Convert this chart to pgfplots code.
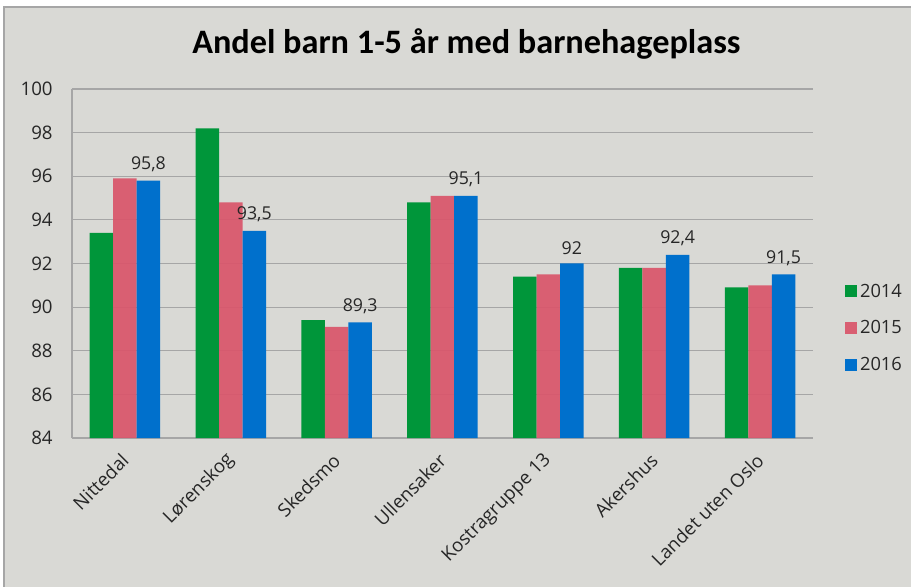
\documentclass[border=0pt]{standalone}
\usepackage{pgfplots}
\pgfplotsset{compat=1.18}
\usepackage{fontspec}
\setmainfont{Open Sans}
\newfontfamily\titlefont{Carlito}
\definecolor{bggray}{HTML}{D9D9D5}
\definecolor{cgreen}{HTML}{00963A}
\definecolor{cpink}{HTML}{D9566B}
\definecolor{cblue}{HTML}{0070CC}
\definecolor{gridgray}{HTML}{A6A6A6}
\definecolor{txt}{HTML}{262626}
\begin{document}
\begin{tikzpicture}
\useasboundingbox (0pt,0pt) rectangle (683.25pt,439.5pt);
\fill[white] (0pt,0pt) rectangle (683.25pt,439.5pt);
\fill[bggray] (3pt,-5pt) rectangle (690pt,434.25pt);
\draw[gray!70, line width=1.2pt] (3pt,-5pt) -- (3pt,434.25pt) -- (690pt,434.25pt);
\node[font=\titlefont\bfseries\fontsize{25.7}{29}\selectfont, text=black] at (349.8pt,406.5pt) {Andel barn 1-5 år med barnehageplass};
\begin{axis}[
  at={(54pt,111pt)}, anchor=south west,
  scale only axis, width=555.75pt, height=261.75pt,
  xmin=-0.5, xmax=6.5, ymin=84, ymax=100,
  ytick={84,86,...,100},
  xtick={0,...,6},
  xticklabels={Nittedal,Lørenskog,Skedsmo,Ullensaker,Kostragruppe 13,Akershus,Landet uten Oslo},
  ybar=0pt, bar width=0.222,
  axis lines*=left,
  axis line style={gridgray, line width=0.8pt, -},
  ymajorgrids, grid style={gridgray, line width=0.8pt},
  major tick length=0pt,
  tick label style={font=\fontsize{14}{16}\selectfont, text=txt},
  /pgf/number format/assume math mode=true,
  /pgf/number format/use comma,
  yticklabel style={xshift=-11pt},
  xticklabel style={xshift=2.5pt, yshift=-12pt, rotate=45, anchor=east},
  legend style={draw=none, fill=none, at={(1.038,0.315)}, anchor=west,
    font=\fontsize{13.7}{15}\selectfont, text=txt, row sep=12pt},
  legend cell align=left,
  legend image code/.code={\fill[#1] (0pt,-4.5pt) rectangle (9pt,4.5pt);},
  every axis plot/.append style={draw=none},
  clip=false,
]
\addplot[fill=cgreen] coordinates {(0,93.4) (1,98.2) (2,89.4) (3,94.8) (4,91.4) (5,91.8) (6,90.9)};
\addplot[fill=cpink, fill opacity=0.93] coordinates {(0,95.9) (1,94.8) (2,89.1) (3,95.1) (4,91.5) (5,91.8) (6,91.0)};
\addplot[fill=cblue, nodes near coords,
  nodes near coords style={font=\fontsize{13.3}{15}\selectfont, text=txt, yshift=3pt, fill opacity=1}] coordinates {(0,95.8) (1,93.5) (2,89.3) (3,95.1) (4,92.0) (5,92.4) (6,91.5)};
\legend{2014,2015,2016}
\end{axis}
\end{tikzpicture}
\end{document}
